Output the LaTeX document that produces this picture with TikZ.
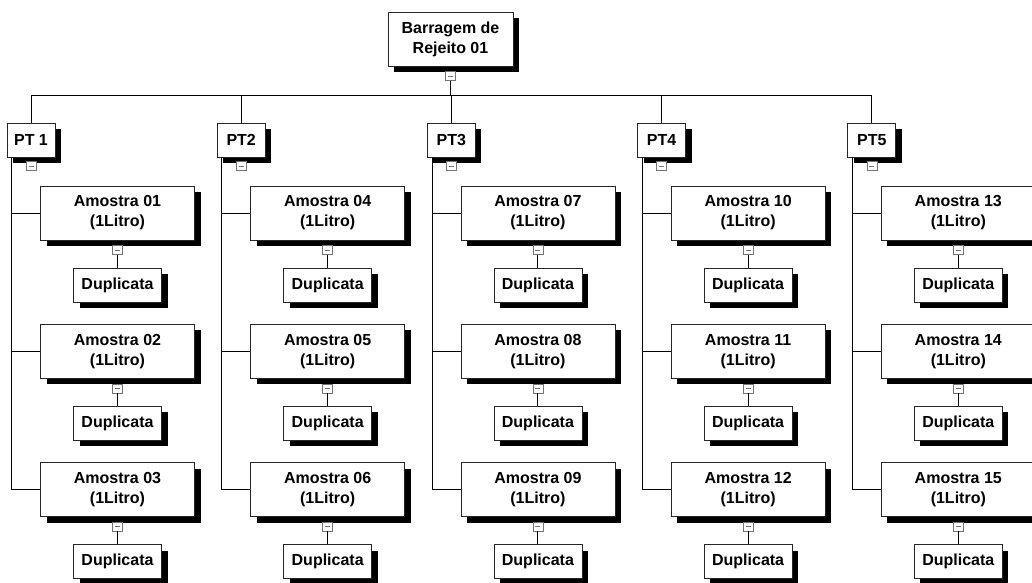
\documentclass[tikz,border=0pt]{standalone}
\usepackage{fontspec}
\setmainfont{Liberation Sans}
\usetikzlibrary{shadows}
\tikzset{
    treebox/.style={draw=black!85, fill=white, line width=0.8pt, inner sep=0pt, align=center,
        font=\fontsize{16}{20}\selectfont\bfseries,
        drop shadow={shadow xshift=6pt, shadow yshift=-6pt, fill=black, opacity=1}},
    rootbox/.style={treebox, minimum width=125pt, minimum height=54pt},
    ptbox/.style={treebox, minimum width=48pt, minimum height=34pt},
    samplebox/.style={treebox, minimum width=154pt, minimum height=54pt},
    dupbox/.style={treebox, minimum width=88pt, minimum height=34pt},
    minusbox/.style={draw=black!55, fill=white, line width=0.6pt, inner sep=0pt, minimum width=10pt, minimum height=9pt,
        path picture={\draw[line width=0.8pt] ([xshift=2.5pt]path picture bounding box.west) -- ([xshift=-2.5pt]path picture bounding box.east);}},
    link/.style={draw=black, line width=0.9pt},
}

\begin{document}
\begin{tikzpicture}[x=1pt, y=-1pt]
    \useasboundingbox (0,0) rectangle (1032,582);
    \clip (0,0) rectangle (1032,582);

    % Barragem
    \node[rootbox] (root) at (450.5,39) {Barragem de\\Rejeito 01};
    \node[minusbox] (root-m) at (450.5,76) {};
    \coordinate (bus) at (450.5,95);
    \draw[link] (root-m) -- (bus);

    % Pontos, amostras e duplicatas
    \foreach \i/\pt in {0/PT 1, 1/PT2, 2/PT3, 3/PT4, 4/PT5} {
        \pgfmathsetmacro{\cx}{31+210.2*\i}
        \node[ptbox] (pt\i) at (\cx,140) {\pt};
        \node[minusbox] (pt\i-m) at (\cx,166) {};
        \coordinate (sp\i) at ([xshift=5pt]pt\i.south west);
        \draw[link] (pt\i.north |- bus) -- (pt\i.north);
        \foreach \j in {0,1,2} {
            \pgfmathsetmacro{\cy}{213+138.3*\j}
            \pgfmathtruncatemacro{\n}{3*\i+\j+1}
            \node[samplebox] (s\i\j) at (\cx+86.5,\cy) {Amostra \ifnum\n<10 0\fi\n\\(1Litro)};
            \node[minusbox] (s\i\j-m) at (\cx+86.5,\cy+37) {};
            \node[dupbox] (d\i\j) at (\cx+86.5,\cy+72) {Duplicata};
            \draw[link] (s\i\j-m) -- (d\i\j);
            \draw[link] (sp\i |- s\i\j.west) -- (s\i\j.west);
        }
        \draw[link] (sp\i) -- (sp\i |- s\i2.west);
    }
    \draw[link] (pt0.north |- bus) -- (pt4.north |- bus);
\end{tikzpicture}
\end{document}
